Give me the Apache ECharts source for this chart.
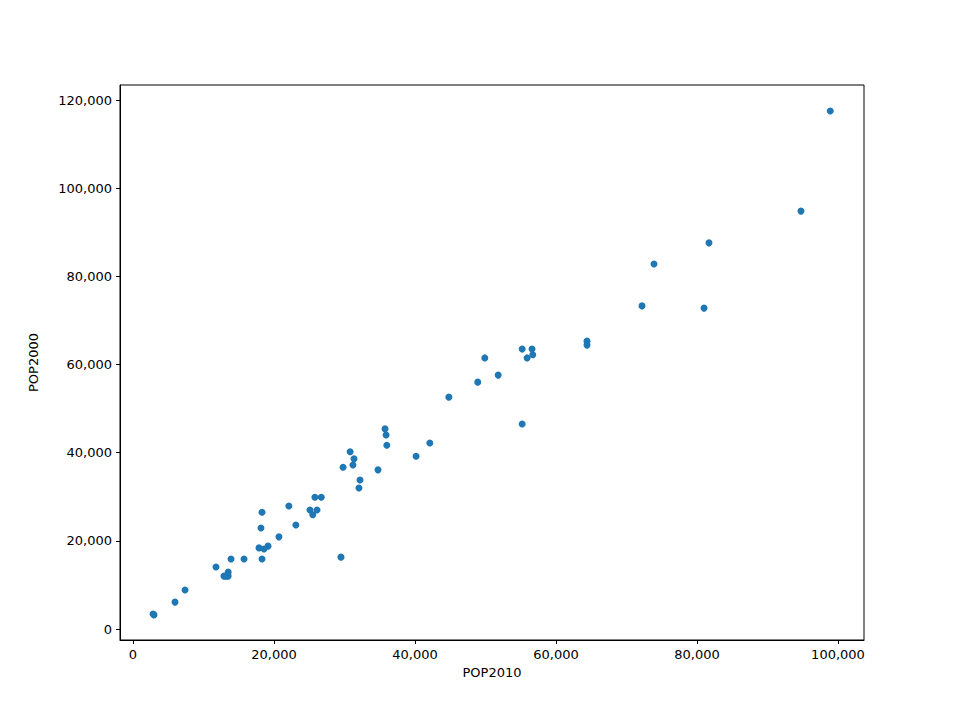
<!DOCTYPE html>
<html>
<head>
<meta charset="utf-8">
<script src="https://cdn.jsdelivr.net/npm/echarts@6/dist/echarts.min.js"></script>
<style>html,body{margin:0;padding:0;background:#fff}#c{width:960px;height:719px}</style>
</head>
<body>
<div id="c"></div>
<script>
// POP2010 vs POP2000
const pop2010 = [2840, 2980, 5960, 7380, 11770, 12900, 13200, 13500, 13500, 13900, 15750, 17870, 18300, 18580, 19150, 18150, 18300, 20700, 22100, 23100, 25100, 25500, 26100, 25800, 26700, 29500, 29800, 30800, 31200, 31350, 32200, 32050, 34750, 35750, 35900, 36000, 40150, 42100, 44800, 48900, 49900, 51800, 55200, 55200, 55900, 56600, 56700, 64400, 64400, 72200, 73900, 81000, 81700, 94750, 98900]
const pop2000 = [3400, 3200, 6100, 8850, 14060, 12000, 12000, 12000, 12900, 15900, 15900, 18400, 15900, 18150, 18800, 22900, 26500, 20900, 27900, 23600, 27000, 25900, 27000, 29900, 29900, 16300, 36700, 40200, 37200, 38600, 33800, 32000, 36100, 45400, 44000, 41700, 39200, 42200, 52600, 56000, 61500, 57600, 63500, 46500, 61500, 63500, 62200, 65300, 64400, 73300, 82800, 72800, 87600, 94800, 117500]
const xTicks = [0, 20000, 40000, 60000, 80000, 100000]
const yTicks = [0, 20000, 40000, 60000, 80000, 100000, 120000]

const chart = echarts.init(document.getElementById('c'), null, { renderer: 'svg' })
const font = 'DejaVu Sans'
const axisCommon = {
  axisLine: { show: true, onZero: false, lineStyle: { color: '#000', width: 1 } },
  splitLine: { show: false },
  nameTextStyle: { color: '#000', fontFamily: font, fontSize: 13 },
  nameLocation: 'middle',
}
const tick = vals => ({ show: true, length: 4, lineStyle: { color: '#000' }, customValues: vals })
const label = vals => ({ color: '#000', fontFamily: font, fontSize: 13, customValues: vals })
chart.setOption({
  animation: false,
  backgroundColor: '#fff',
  grid: { left: 120, right: 96, top: 85, bottom: 79, show: true, borderColor: '#000', borderWidth: 1 },
  xAxis: {
    ...axisCommon,
    type: 'value', name: 'POP2010', nameGap: 22,
    min: -1844, max: 103688,
    axisTick: tick(xTicks), axisLabel: label(xTicks),
  },
  yAxis: {
    ...axisCommon,
    type: 'value', name: 'POP2000', nameGap: 80,
    min: -2495, max: 123411,
    axisTick: tick(yTicks), axisLabel: label(yTicks),
  },
  series: [{
    type: 'scatter',
    symbolSize: 7,
    itemStyle: { color: '#1f77b4', opacity: 1 },
    data: pop2010.map((x, i) => [x, pop2000[i]]),
  }],
})
</script>
</body>
</html>
